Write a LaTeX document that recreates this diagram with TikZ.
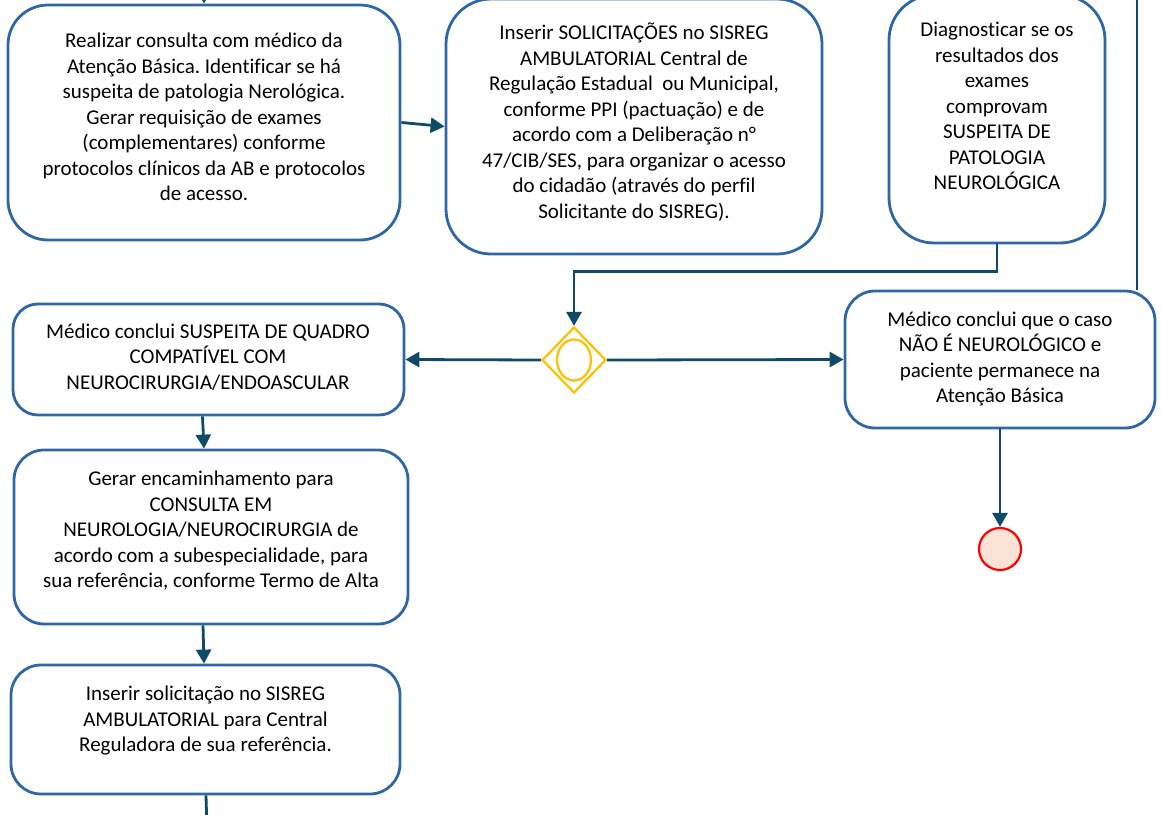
\documentclass[tikz,border=0pt]{standalone}
\usepackage{fontspec}
\setmainfont{Carlito}[Ligatures=NoCommon]
\frenchspacing
\usetikzlibrary{arrows.meta,shapes.geometric}
\definecolor{conn}{HTML}{0F4B66}
\definecolor{boxline}{HTML}{2E67A3}
\definecolor{gold}{HTML}{FFC000}
\definecolor{endfill}{HTML}{FBE3D6}
\tikzset{
  box/.style={draw=boxline, line width=2.8pt, fill=white, inner sep=0pt, rectangle},
  txt/.style={align=center, inner sep=0pt, font=\fontsize{21}{25.5}\selectfont, text=black},
  arr/.style={draw=conn, line width=2.8pt, -{Triangle[length=14pt,width=15pt]}},
  plain/.style={draw=conn, line width=2.8pt},
}
\begin{document}
\begin{tikzpicture}[x=1pt,y=-1pt]
\useasboundingbox (0,0) rectangle (1161,814);
% boxes
\node[box, minimum width=392pt, minimum height=235pt, rounded corners=40pt] (b1) at (204,122.5) {};
\node[box, minimum width=376pt, minimum height=255pt, rounded corners=45pt] (b2) at (634,126.5) {};
\node[box, minimum width=216pt, minimum height=248pt, rounded corners=45pt] (b3) at (997,119) {};
\node[box, minimum width=310pt, minimum height=137pt, rounded corners=30pt] (b4) at (1000,359.5) {};
\node[box, minimum width=391pt, minimum height=111pt, rounded corners=25pt] (b5) at (208.5,359.5) {};
\node[box, minimum width=394pt, minimum height=174pt, rounded corners=30pt] (b6) at (211,537) {};
\node[box, minimum width=389pt, minimum height=129pt, rounded corners=30pt] (b7) at (205.5,729.5) {};
% texts
\node[txt] (t1) at (204,117) {Realizar consulta com médico da\\Atenção Básica. Identificar se há\\suspeita de patologia Nerológica.\\Gerar requisição de exames\\(complementares) conforme\\protocolos clínicos da AB e protocolos\\de acesso.};
\node[txt] (t2) at (634,122) {Inserir SOLICITAÇÕES no SISREG\\AMBULATORIAL Central de\\Regulação Estadual\ \ ou Municipal,\\conforme PPI (pactuação) e de\\acordo com a Deliberação n°\\47/CIB/SES, para organizar o acesso\\do cidadão (através do perfil\\Solicitante do SISREG).};
\node[txt] (t3) at (997,106) {Diagnosticar se os\\resultados dos\\exames\\comprovam\\SUSPEITA DE\\PATOLOGIA\\NEUROLÓGICA};
\node[txt] (t4) at (1000,359) {Médico conclui que o caso\\NÃO É NEUROLÓGICO e\\paciente permanece na\\Atenção Básica};
\node[txt] (t5) at (208,357) {Médico conclui SUSPEITA DE QUADRO\\COMPATÍVEL COM\\NEUROCIRURGIA/ENDOASCULAR};
\node[txt] (t6) at (211,531) {Gerar encaminhamento para\\CONSULTA EM\\NEUROLOGIA/NEUROCIRURGIA de\\acordo com a subespecialidade, para\\sua referência, conforme Termo de Alta};
\node[txt] (t7) at (205.5,721) {Inserir solicitação no SISREG\\AMBULATORIAL para Central\\Reguladora de sua referência.};
% gateway
\node[diamond, draw=gold, line width=2.2pt, fill=white, inner sep=0pt, minimum width=64pt, minimum height=66pt] (d) at (574,360) {};
\node[ellipse, draw=gold, line width=2.2pt, inner sep=0pt, minimum width=34pt, minimum height=41pt] (dO) at (574,360) {};
% end event
\node[circle, draw=red, line width=2.2pt, fill=endfill, inner sep=0pt, minimum size=42pt] (endc) at (1000,549) {};
% free ends
\coordinate (in1) at (204,-20);
\coordinate (topR) at (1137,-10);
\coordinate (out7) at (207,830);
% connectors
\draw[arr] (in1) -- (b1.north);
\draw[arr] (b1.east) -- (b2.west);
\draw[arr] (b3.south) -- ++(0,27) -| (d.north);
\draw[arr] (d.west) -- (b5.east);
\draw[arr] (d.east) -- (b4.west);
\draw[arr] (b4.south) -- (endc.north);
\draw[arr] ([xshift=-6pt]b5.south) -- ([xshift=-7pt]b6.north);
\draw[arr] ([xshift=-8pt]b6.south) -- ([xshift=-1.5pt]b7.north);
\draw[plain] ([xshift=0.5pt]b7.south) -- (out7);
\draw[plain] (topR) -- (topR |- b4.north);
\end{tikzpicture}
\end{document}
